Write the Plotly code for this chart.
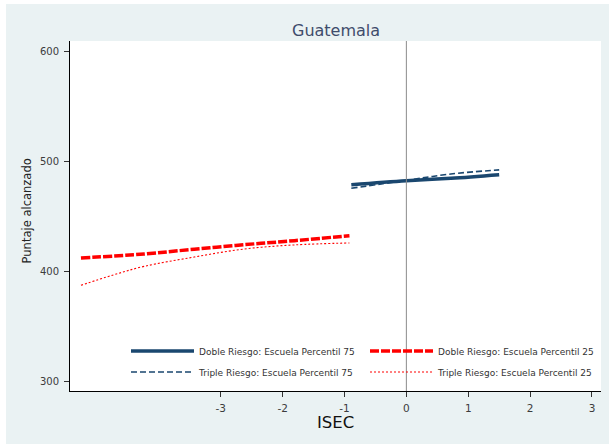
import plotly.graph_objects as go

# Predicted scores by ISEC, Guatemala
x_doble_25 = [-5.26, -4.24, -3.43, -2.62, -1.81, -0.92]
y_doble_25 = [412.4, 416.1, 420.4, 424.5, 428.2, 432.7]

x_triple_25 = [-5.26, -4.75, -4.24, -3.43, -2.62, -1.81, -0.92]
y_triple_25 = [387.6, 396.8, 404.8, 413.3, 420.6, 424.3, 426.1]

x_doble_75 = [-0.89, 0.0, 0.72, 1.50]
y_doble_75 = [479.0, 482.6, 484.9, 488.2]

x_triple_75 = [-0.89, 0.0, 0.72, 1.50]
y_triple_75 = [475.8, 483.0, 488.8, 492.5]

x_ticks = [-3, -2, -1, 0, 1, 2, 3]
y_ticks = [300, 400, 500, 600]

NAVY = "#1A476F"
RED = "#FF0000"
BG = "#EAF2F3"
FONT = "DejaVu Sans"

series = [
    ("Doble Riesgo: Escuela Percentil 75", x_doble_75, y_doble_75,
     dict(color=NAVY, width=3.5, dash="solid"), "legend"),
    ("Doble Riesgo: Escuela Percentil 25", x_doble_25, y_doble_25,
     dict(color=RED, width=3.5, dash="9px,2px"), "legend2"),
    ("Triple Riesgo: Escuela Percentil 75", x_triple_75, y_triple_75,
     dict(color=NAVY, width=1.6, dash="6px,3px"), "legend3"),
    ("Triple Riesgo: Escuela Percentil 25", x_triple_25, y_triple_25,
     dict(color=RED, width=1.1, dash="2px,2px"), "legend4"),
]

fig = go.Figure()
for name, xs, ys, line, leg in series:
    fig.add_trace(go.Scatter(x=xs, y=ys, mode="lines", name=name,
                             line=dict(shape="spline", **line), legend=leg))

W, H = 609, 444
L, R, T, B = 70, 8, 41, 53
pw, ph = W - L - R, H - T - B


def px_x(p):
    return (p - L) / pw


def px_y(p):
    return (H - B - p) / ph


leg_common = dict(orientation="h", bgcolor="rgba(0,0,0,0)", borderwidth=0,
                  itemwidth=63, xanchor="left", yanchor="middle",
                  font=dict(family=FONT, size=9, color="#333333"),
                  tracegroupgap=0, itemclick=False)

fig.update_layout(
    width=W, height=H,
    margin=dict(l=L, r=R, t=T, b=B),
    paper_bgcolor="white",
    plot_bgcolor="white",
    showlegend=True,
    legend=dict(x=px_x(126), y=px_y(351), **leg_common),
    legend2=dict(x=px_x(365), y=px_y(351), **leg_common),
    legend3=dict(x=px_x(126), y=px_y(372), **leg_common),
    legend4=dict(x=px_x(365), y=px_y(372), **leg_common),
    xaxis=dict(range=[-5.437, 3.146], tickvals=x_ticks,
               ticktext=[str(v) for v in x_ticks],
               showgrid=False, zeroline=False, showline=True,
               linecolor="#000000", linewidth=1, ticks="outside",
               ticklen=5, tickcolor="#333333", ticklabelstandoff=2,
               tickfont=dict(family=FONT, size=10.5, color="#3c3c3c")),
    yaxis=dict(range=[291.5, 609.7], tickvals=y_ticks,
               ticktext=[str(v) for v in y_ticks],
               showgrid=False, zeroline=False, showline=True,
               linecolor="#000000", linewidth=1, ticks="outside",
               ticklen=5, tickcolor="#333333", ticklabelstandoff=3,
               tickfont=dict(family=FONT, size=10, color="#3c3c3c")),
)

# graph region background
fig.add_shape(type="rect", xref="paper", yref="paper", layer="below",
              x0=px_x(6), x1=px_x(W + 2), y0=px_y(H + 2), y1=px_y(4),
              fillcolor=BG, line=dict(width=0))
# white plot region on top of the background
fig.add_shape(type="rect", xref="paper", yref="paper", layer="below",
              x0=0, x1=1, y0=0, y1=1,
              fillcolor="white", line=dict(width=0))
# reference line at ISEC = 0
fig.add_shape(type="line", xref="x", yref="paper", x0=0, x1=0, y0=0, y1=1,
              line=dict(color="#8c8c8c", width=1))

fig.add_annotation(text="Guatemala", xref="paper", yref="paper",
                   x=px_x(335.5), y=px_y(30), showarrow=False,
                   xanchor="center", yanchor="middle",
                   font=dict(family=FONT, size=16, color="#3F4C6B"))
fig.add_annotation(text="Puntaje alcanzado", xref="paper", yref="paper",
                   x=px_x(26.7), y=px_y(210.7), showarrow=False, textangle=-90,
                   xanchor="center", yanchor="middle",
                   font=dict(family=FONT, size=11.5, color="#222222"))
fig.add_annotation(text="ISEC", xref="paper", yref="paper",
                   x=px_x(335.7), y=px_y(422), showarrow=False,
                   xanchor="center", yanchor="middle",
                   font=dict(family=FONT, size=16.5, color="#111111"))

fig.write_html("out.html")
